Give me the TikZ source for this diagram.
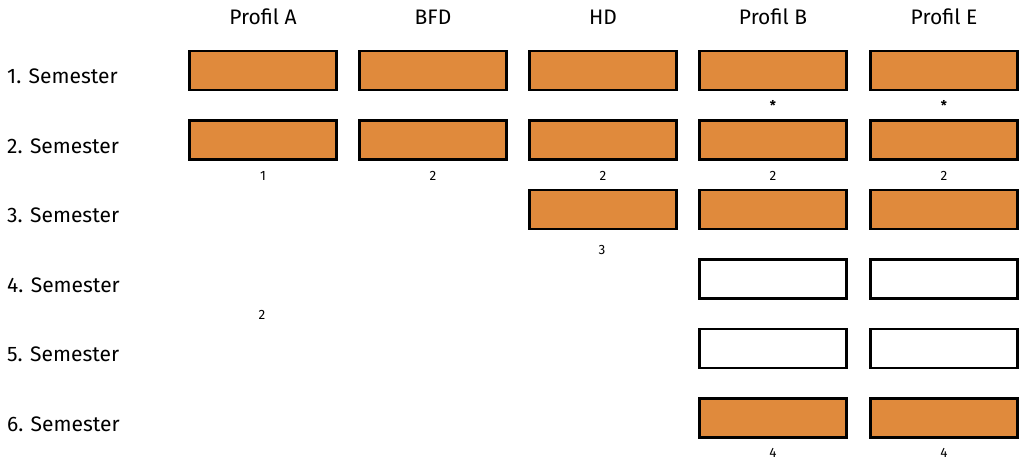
\documentclass[tikz,border=0pt]{standalone}
\usepackage{fontspec}
\setmainfont{Fira Sans}
\definecolor{semorange}{RGB}{224,138,60}

\tikzset{
  fullsem/.style={draw=black,line width=2.5pt,fill=semorange,minimum width=147pt,minimum height=39pt,inner sep=0pt},
  opensem/.style={fullsem,fill=white},
  fnote/.style={font=\fontsize{13.5}{15}\selectfont,inner sep=0pt},
}

\begin{document}
\begin{tikzpicture}[x=1pt,y=-1pt,font=\fontsize{21}{25}\selectfont]
\useasboundingbox (0,0) rectangle (1025,460);

% column headers
\node (hA) at (263,17) {Profil A};
\node (hBFD) at (433,17) {BFD};
\node (hHD) at (603,17) {HD};
\node (hB) at (773,17) {Profil B};
\node (hE) at (944,17) {Profil E};

% semester labels
\foreach \i in {1,2,3,4,5,6}{
	\node[anchor=west,inner sep=0pt] (sem\i) at (7,{70.5+69.5*(\i-1)+6}) {\i. Semester};
	}

% boxes
\foreach \c/\x in {A/263,BFD/433,HD/603,B/773,E/944}{
	\node[fullsem] (\c1) at (\x,70.5) {};
	\node[fullsem] (\c2) at (\x,140) {};
	}
\node[fullsem] (HD3) at (603,209.5) {};
\foreach \c/\x in {B/773,E/944}{
	\node[fullsem] (\c3) at (\x,209.5) {};
	\node[opensem] (\c4) at (\x,279) {};
	\node[opensem] (\c5) at (\x,348.5) {};
	\node[fullsem] (\c6) at (\x,418) {};
	}

% notes
\node[fnote] (sB1) at (773,105) {\textbf{*}};
\node[fnote] (sE1) at (944,105) {\textbf{*}};
\node[fnote] (nA2) at (263,176) {1};
\node[fnote] (nBFD2) at (433,176) {2};
\node[fnote] (nHD2) at (603,176) {2};
\node[fnote] (nB2) at (773,176) {2};
\node[fnote] (nE2) at (944,176) {2};
\node[fnote] (nHD3) at (602,250) {3};
\node[fnote] (nA4) at (262,315) {2};
\node[fnote] (nB6) at (773,453) {4};
\node[fnote] (nE6) at (944,453) {4};
\end{tikzpicture}
\end{document}
